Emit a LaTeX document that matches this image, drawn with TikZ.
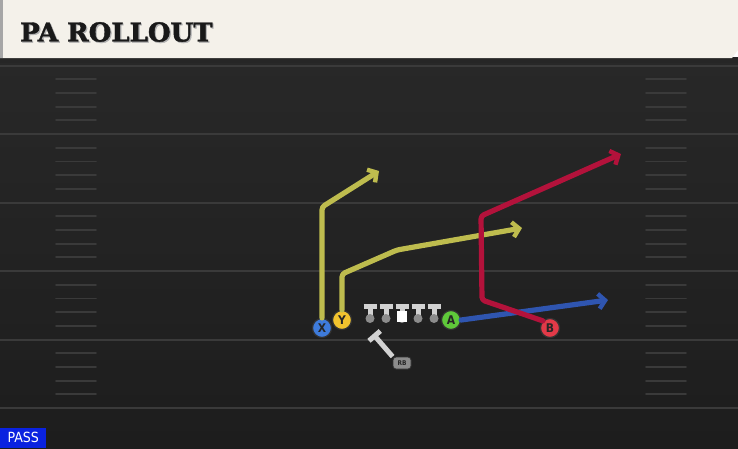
\documentclass[tikz,border=0pt]{standalone}
\usepackage{fontspec}
\usepackage{tikz}
\usetikzlibrary{positioning, arrows.meta}
\newfontfamily\titlefont[BoldFeatures={FakeBold=1.6}]{DejaVu Serif}
\newfontfamily\labelfont{DejaVu Sans Condensed}

\definecolor{fieldbg}{HTML}{282828}
\definecolor{fielddark}{HTML}{1D1D1D}
\definecolor{yardline}{HTML}{3A3A3A}
\definecolor{headerbg}{HTML}{F4F1EA}
\definecolor{routeyellow}{HTML}{BEBC4E}
\definecolor{routered}{HTML}{B3123B}
\definecolor{routeblue}{HTML}{2F55B0}
\definecolor{playblue}{HTML}{3E7BDB}
\definecolor{playyellow}{HTML}{F2C32E}
\definecolor{playgreen}{HTML}{5FC93A}
\definecolor{playred}{HTML}{E23A48}
\definecolor{lineman}{HTML}{D2D2D2}
\definecolor{passblue}{HTML}{0A22E0}

\begin{document}
\begin{tikzpicture}[
    x=1pt, y=-1pt,
    player/.style={circle, draw=black!80, line width=1.2pt, minimum size=19pt, inner sep=0pt, font=\labelfont\bfseries\fontsize{12}{12}\selectfont, text=black!85},
    route/.style={line width=5.2pt, line cap=round, line join=round, rounded corners=3pt, -{Straight Barb[length=6.5pt, width=15pt, line width=4.4pt]}},
    yard/.style={yardline, line width=2pt},
    hash/.style={yardline, line width=1.8pt, line cap=round}
]
    \useasboundingbox (0,0) rectangle (738,448);
    % field
    \shade[top color=fieldbg, bottom color=fielddark] (0,58) rectangle (738,448);
    \foreach \y in {65.5, 134, 202.5, 271, 339.5, 408} {
        \draw[yard] (0,\y) -- (738,\y);
    }
    \foreach \y in {65.5, 134, 202.5, 271, 339.5} {
        \foreach \k in {1,...,4} {
            \draw[hash] (56,\y+13.7*\k) -- (96,\y+13.7*\k);
            \draw[hash] (646,\y+13.7*\k) -- (686,\y+13.7*\k);
        }
    }

    % header
    \fill[black!85] (0,57) rectangle (738,63);
    \fill[headerbg] (0,0) -- (738,0) -- (738,50) -- (732,58) -- (0,58) -- cycle;
    \fill[black!35] (0,0) rectangle (3,58);
    \node[anchor=west, font=\titlefont\bfseries\fontsize{26}{26}\selectfont, text=black!30, inner sep=0pt] at (21.2,33.2) {PA ROLLOUT};
    \node[anchor=west, font=\titlefont\bfseries\fontsize{26}{26}\selectfont, text=black!90, inner sep=0pt] (title) at (20,32) {PA ROLLOUT};

    % line
    \foreach \x in {370, 386, 402, 418, 434} {
        \draw[lineman, line width=5pt] (\x-6.5,306.5) -- (\x+6.5,306.5);
        \draw[lineman, line width=5pt] (\x,306) -- (\x,316);
        \fill[black!45] (\x,318.5) circle (4.5pt);
    }
    \fill[white] (397,311) rectangle (407,322);

    % players
    \node[player, fill=playblue] (X) at (322,328) {X};
    \node[player, fill=playyellow] (Y) at (342,320) {Y};
    \node[player, fill=playgreen] (A) at (451,320) {A};
    \node[player, fill=playred] (B) at (550,328) {B};
    \node[rectangle, rounded corners=3pt, fill=black!45, draw=black!80, line width=0.8pt, minimum width=18pt, minimum height=12pt, inner sep=0pt, font=\labelfont\bfseries\fontsize{6.5}{6.5}\selectfont, text=black!85] (RB) at (402,363) {RB};

    % routes
    \draw[route, routeyellow] (X.north) -- (322,207) -- (379,171);
    \draw[route, routeyellow] (Y.north) -- (342,274) -- (397,250) -- (522,228);
    \draw[route, routeblue] (A.east) -- (608,300);
    \draw[route, routered] (B.north west) -- (482,300) -- (481,216) -- (621,154);
    \draw[lineman, line width=5pt, {Bar[width=15pt, line width=5pt]}-] (373,334) -- (RB.north west);

    % pass tag
    \node[fill=passblue, text=white, anchor=south west, minimum width=46pt, minimum height=20pt, inner sep=0pt, font=\labelfont\fontsize{14}{14}\selectfont] (pass) at (0,448) {PASS};
\end{tikzpicture}
\end{document}
